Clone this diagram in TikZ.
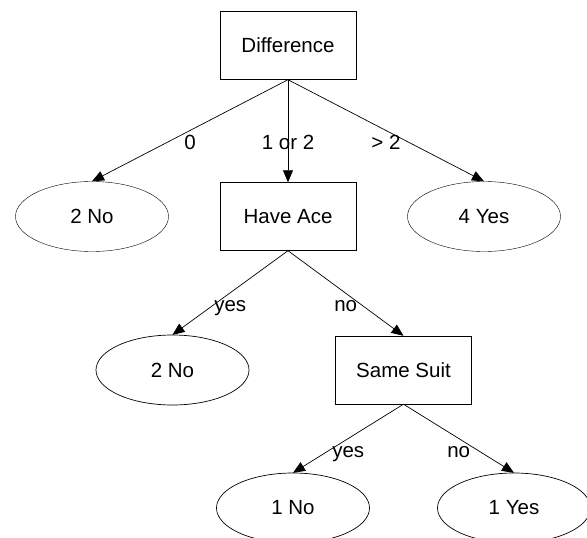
\documentclass[tikz,border=0pt]{standalone}
\usepackage{fontspec}
\setmainfont{Liberation Sans}
\usepackage{tikz}
\usetikzlibrary{positioning,shapes.geometric,arrows.meta}

\begin{document}
\begin{tikzpicture}[x=1pt,y=1pt,font=\fontsize{20.5}{24}\selectfont,
	test/.style={draw,rectangle,minimum width=136pt,minimum height=68pt,inner sep=0pt},
	leaf/.style={draw,ellipse,minimum width=153pt,minimum height=70pt,inner sep=0pt},
	lbl/.style={midway,anchor=base,yshift=-18.5pt},
	edge from parent/.style={draw,line width=0.7pt,-{Triangle[length=12pt,width=10pt]}},
	edge from parent path={(\tikzparentnode.south) -- (\tikzchildnode.north)},
	level 1/.style={level distance=171pt,sibling distance=196pt},
	level 2/.style={level distance=153.5pt,sibling distance=231pt,xshift=4.5pt},
	level 3/.style={level distance=138pt,sibling distance=221pt}]
	
	\clip (0,0) rectangle (587,-538);
	\node[test] (diff) at (288,-45.5) {Difference}
	child {node[leaf] (noA) {2 No}
		edge from parent node[lbl] {0}}
	child {node[test] (ace) {Have Ace}
		child {node[leaf] (noB) {2 No}
			edge from parent node[lbl] {yes}}
		child {node[test] (suit) {Same Suit}
			child {node[leaf] (noC) {1 No}
				edge from parent node[lbl] {yes}}
			child {node[leaf] (yesC) {1 Yes}
				edge from parent node[lbl] {no}}
			edge from parent node[lbl] {no}}
		edge from parent node[lbl] {1 or 2}}
	child {node[leaf] (yesA) {4 Yes}
		edge from parent node[lbl] {> 2}};
\end{tikzpicture}
\end{document}
